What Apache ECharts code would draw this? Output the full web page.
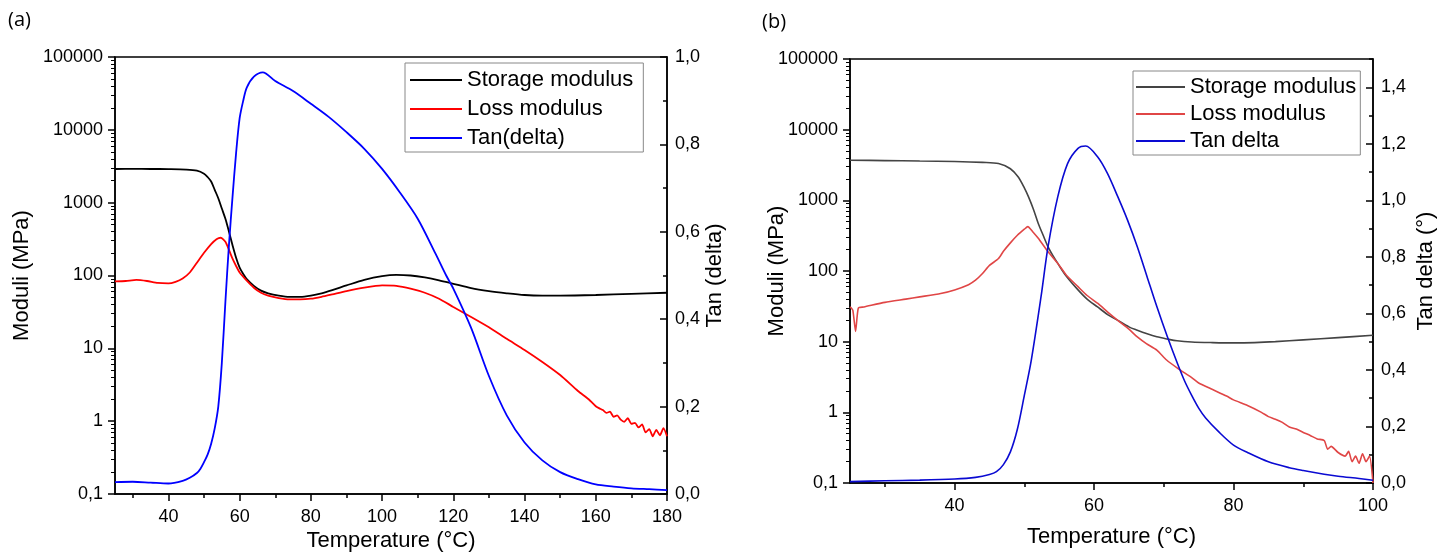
<!DOCTYPE html>
<html>
<head>
<meta charset="utf-8">
<script src="https://cdn.jsdelivr.net/npm/echarts@6/dist/echarts.min.js"></script>
<style>
  html, body { margin: 0; padding: 0; background: #fff; }
  #chartA { position: absolute; left: 0; top: 0; width: 740px; height: 557px; }
  #chartB { position: absolute; left: 740px; top: 0; width: 705px; height: 557px; }
</style>
</head>
<body>
<div id="chartA"></div>
<div id="chartB"></div>
<script>
// ---- (a) data ----
var tempStorageA = [25,30,35,40,45,48,50,51,52,53,54,55,56,57,58,59,60,61,62,64,66,68,71,74,77,80,83,86,90,95,100,104,108,112,116,120,125,130,135,140,145,150,160,170,180];
var storageA = [2900,2910,2900,2890,2850,2750,2500,2250,1950,1500,1150,830,600,400,260,175,128,105,89,72,62,57,53,51,51,53,57,63,73,87,98,102,100,94,86,77,67,61,57,54,53,53,54,56,58];

var tempLossA = [25,28,31,34,37,40,42,44,46,48,50,52,53.5,54.7,56,57,58,59,60,62,64,66,68,71,74,77,80,83,86,90,95,100,104,108,112,116,120,125,130,135,140,145,150,155,158,160,161,162,163,164,165,166,167,168,169,170,171,172,173,174,175,176,177,178,179,180];
var lossA = [83,84,87,84,79,78,82,91,110,150,205,270,315,330,290,225,170,135,110,85,68,58,53,49,47,47,48,51,55,61,68,73,72,66,58,48,37,27,19.5,13.5,9.5,6.5,4.3,2.6,2.0,1.6,1.5,1.42,1.3,1.35,1.15,1.2,1.05,0.98,1.1,0.92,0.95,0.82,0.9,0.7,0.78,0.62,0.76,0.64,0.8,0.62];

var tempTanA = [25,30,35,40,44,46,48,49,50,51,52,53,54,55,56,57,58,59,60,61,62,64,66.5,70,75,80,85,90,95,100,105,110,115,118,120,125,130,135,140,145,150,155,160,165,170,175,180];
var tanA = [0.027,0.028,0.026,0.024,0.03,0.037,0.048,0.058,0.073,0.09,0.115,0.15,0.2,0.3,0.44,0.57,0.68,0.78,0.86,0.9,0.93,0.955,0.965,0.945,0.922,0.893,0.863,0.828,0.79,0.744,0.69,0.63,0.55,0.5,0.47,0.38,0.27,0.18,0.118,0.077,0.05,0.034,0.022,0.017,0.013,0.011,0.009];

// ---- (b) data ----
var tempStorageB = [25,30,35,40,44,46.3,48,49.1,50,50.6,51.3,52,52.7,53.4,54.1,54.8,56,57.7,59,60.5,62,63.4,65,66.2,67.5,69,70.5,71.9,74,77,80,83,86,90,95,100];
var storageB = [3700,3650,3600,3550,3450,3320,2800,2150,1500,1120,750,470,320,220,165,128,85,54,40,31,24,20,16.2,14.5,13,11.7,10.9,10.3,9.9,9.7,9.6,9.7,10,10.6,11.4,12.3];

var tempLossB = [25,25.4,25.8,26.2,27,30,33,35,38,40,42,43,44,45,46.3,47,48,49,50,50.5,51.2,52,53.4,54.8,56,57.7,59,60.5,62,63.4,65,66.2,67.5,69,70.4,72,74,75,77,79,80,82,84,85,86,87,88,89,90,91,92,93,93.5,94,95,96,96.5,97,97.5,98,98.5,99,99.5,100];
var lossB = [31,28,14,30,31,36,40,43,48,54,64,74,92,120,150,190,250,320,390,425,360,290,187,128,88,60,45,35,26,20,15,11.7,9.4,7.6,5.5,4.2,3.1,2.6,2.1,1.7,1.5,1.25,1.0,0.87,0.8,0.72,0.62,0.58,0.52,0.47,0.42,0.4,0.3,0.33,0.27,0.24,0.28,0.2,0.24,0.19,0.26,0.2,0.24,0.1];

var tempTanB = [25,30,35,40,43,45,46,47,48,49,50,51,52.4,53.4,54.8,56.2,57.7,58.8,60.5,61.9,63.4,64.8,66.2,67.6,69,70.5,72,73,74,75,76,78,80,82,85,88,90,93,95,98,100];
var tanB = [0.005,0.008,0.01,0.014,0.02,0.03,0.04,0.065,0.11,0.19,0.31,0.435,0.66,0.836,1.013,1.13,1.184,1.192,1.154,1.096,1.013,0.93,0.836,0.73,0.624,0.518,0.42,0.36,0.31,0.265,0.23,0.178,0.134,0.108,0.075,0.054,0.044,0.031,0.024,0.016,0.01];

// ---- ticks ----
var xLabelsA = [40,60,80,100,120,140,160,180];
var xMinorA = [30,50,70,90,110,130,150,170];
var xLabelsB = [40,60,80,100];
var xMinorB = [30,50,70,90];
var tanLabelsA = [0,0.2,0.4,0.6,0.8,1.0];
var tanMinorA = [0.1,0.3,0.5,0.7,0.9];
var tanLabelsB = [0,0.2,0.4,0.6,0.8,1.0,1.2,1.4];
var tanMinorB = [0.1,0.3,0.5,0.7,0.9,1.1,1.3,1.5];

// minor ticks of the log axis (2..9 in every decade), on a helper axis in log10 units
var logMinor = [];
for (var d = -1; d < 5; d++) {
    for (var k = 2; k <= 9; k++) {
        logMinor.push(Math.log10(k) + d);
    }
}

var FONT = '"Liberation Sans", Arial, sans-serif';

function pairs(xs, ys) {
    return xs.map(function (x, i) { return [x, ys[i]]; });
}
function fmtLog(v) {
    return v >= 1 ? String(Math.round(v)) : '0,1';
}
function fmtComma(v) {
    return v.toFixed(1).replace('.', ',');
}

function buildOption(p) {
    var axisLine = { show: true, onZero: false, lineStyle: { color: '#000', width: 1.5 } };
    var tickStyle = { color: '#000', width: 1.5 };
    var nameStyle = { fontSize: 22, color: '#000', fontFamily: FONT };
    return {
        animation: false,
        textStyle: { fontFamily: FONT, color: '#000' },
        graphic: [{
            type: 'text', left: p.tagLeft, top: p.tagTop,
            style: { text: p.tag, font: '20px "Open Sans", sans-serif', fill: '#000' }
        }],
        legend: {
            orient: 'vertical',
            left: p.legendLeft, top: p.legendTop,
            padding: p.legendPadding,
            icon: 'rect',
            itemWidth: p.legendItemWidth, itemHeight: 2, itemGap: p.legendGap,
            borderColor: '#888', borderWidth: 1, backgroundColor: '#fff',
            textStyle: { fontSize: 22, color: '#000', fontFamily: FONT },
            data: p.names
        },
        grid: {
            left: p.grid[0], right: p.grid[1], top: p.grid[2], bottom: p.grid[3],
            show: true, borderColor: '#000', borderWidth: 1.5, backgroundColor: 'transparent'
        },
        xAxis: [{
            type: 'value', min: 25, max: p.xMax,
            name: 'Temperature (°C)', nameLocation: 'middle', nameGap: p.xNameGap,
            nameMoveOverlap: false, nameTextStyle: nameStyle,
            axisLine: axisLine,
            axisTick: { show: true, length: 7, customValues: p.xLabels, lineStyle: tickStyle },
            axisLabel: { customValues: p.xLabels, fontSize: 18, color: '#000', margin: 14 },
            splitLine: { show: false }
        }, {
            type: 'value', min: 25, max: p.xMax, position: 'bottom',
            axisLine: { show: false },
            axisTick: { show: true, length: 4, customValues: p.xMinor, lineStyle: tickStyle },
            axisLabel: { show: false },
            splitLine: { show: false }
        }],
        yAxis: [{
            type: 'log', logBase: 10, min: 0.1, max: 100000, position: 'left',
            name: 'Moduli (MPa)', nameLocation: 'middle', nameGap: p.leftNameGap,
            nameMoveOverlap: false, nameTextStyle: nameStyle,
            axisLine: axisLine,
            axisTick: { show: true, length: 7, lineStyle: tickStyle },
            axisLabel: { formatter: fmtLog, fontSize: 18, color: '#000', margin: 12 },
            splitLine: { show: false }
        }, {
            type: 'value', min: 0, max: p.tanMax, position: 'right',
            name: p.tanName, nameLocation: 'middle', nameGap: p.rightNameGap,
            nameMoveOverlap: false, nameTextStyle: nameStyle,
            axisLine: axisLine,
            axisTick: { show: true, inside: true, length: 7, customValues: p.tanLabels, lineStyle: tickStyle },
            axisLabel: { customValues: p.tanLabels, formatter: fmtComma, fontSize: 18, color: '#000', margin: 8 },
            splitLine: { show: false }
        }, {
            type: 'value', min: -1, max: 5, position: 'left',
            axisLine: { show: false },
            axisTick: { show: true, length: 4, customValues: logMinor, lineStyle: { color: '#000', width: 1 } },
            axisLabel: { show: false },
            splitLine: { show: false }
        }, {
            type: 'value', min: 0, max: p.tanMax, position: 'right',
            axisLine: { show: false },
            axisTick: { show: true, inside: true, length: 4, customValues: p.tanMinor, lineStyle: tickStyle },
            axisLabel: { show: false },
            splitLine: { show: false }
        }],
        series: [{
            name: p.names[0], type: 'line', xAxisIndex: 0, yAxisIndex: 0,
            data: p.storage, symbol: 'none', smooth: 0.3,
            lineStyle: { color: p.colors[0], width: p.width }, itemStyle: { color: p.colors[0] }
        }, {
            name: p.names[1], type: 'line', xAxisIndex: 0, yAxisIndex: 0,
            data: p.loss, symbol: 'none', smooth: 0.2,
            lineStyle: { color: p.colors[1], width: p.width }, itemStyle: { color: p.colors[1] }
        }, {
            name: p.names[2], type: 'line', xAxisIndex: 0, yAxisIndex: 1,
            data: p.tan, symbol: 'none', smooth: 0.3,
            lineStyle: { color: p.colors[2], width: p.width }, itemStyle: { color: p.colors[2] }
        }]
    };
}

var chartA = echarts.init(document.getElementById('chartA'));
chartA.setOption(buildOption({
    tag: '(a)', tagLeft: 8, tagTop: 10,
    grid: [115, 73, 57, 58],
    xMax: 180, xLabels: xLabelsA, xMinor: xMinorA, xNameGap: 36,
    leftNameGap: 82, rightNameGap: 37,
    tanMax: 1, tanName: 'Tan (delta)', tanLabels: tanLabelsA, tanMinor: tanMinorA,
    names: ['Storage modulus', 'Loss modulus', 'Tan(delta)'],
    colors: ['#000000', '#ff0000', '#0000ff'], width: 1.8,
    legendLeft: 405, legendTop: 63, legendPadding: [6, 10, 3, 5], legendItemWidth: 52, legendGap: 7,
    storage: pairs(tempStorageA, storageA),
    loss: pairs(tempLossA, lossA),
    tan: pairs(tempTanA, tanA)
}));

var chartB = echarts.init(document.getElementById('chartB'));
chartB.setOption(buildOption({
    tag: '(b)', tagLeft: 22, tagTop: 12,
    grid: [110, 67, 59, 74],
    xMax: 100, xLabels: xLabelsB, xMinor: xMinorB, xNameGap: 43,
    leftNameGap: 62, rightNameGap: 42,
    tanMax: 1.5, tanName: 'Tan delta (°)', tanLabels: tanLabelsB, tanMinor: tanMinorB,
    names: ['Storage modulus', 'Loss modulus', 'Tan delta'],
    colors: ['#444444', '#e04646', '#0a0ad2'], width: 1.6,
    legendLeft: 393, legendTop: 71, legendPadding: [5, 4, 3, 3], legendItemWidth: 49, legendGap: 5,
    storage: pairs(tempStorageB, storageB),
    loss: pairs(tempLossB, lossB),
    tan: pairs(tempTanB, tanB)
}));
</script>
</body>
</html>
